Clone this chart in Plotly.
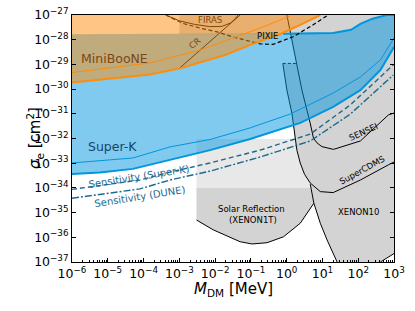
import numpy as np
import plotly.graph_objects as go

# ---- data: log10(M_DM / MeV) and log10(sigma_e / cm^2) ----
# Super-K excluded band
skb_lm = [-6.0, -5.22, -4.30, -3.26, -2.14, -1.02, 0.38, 1.30, 2.06, 2.62, 3.0]
skb_ls = [-33.44, -33.38, -33.23, -32.87, -32.47, -32.02, -31.37, -30.72, -30.04, -29.23, -28.30]
skt_lm = [-6.0, -4.30, -3.26, -2.14, -1.02, 0.10, 1.30, 2.06, 2.62, 3.0]
skt_ls = [-32.99, -32.79, -32.34, -32.04, -31.57, -31.01, -30.16, -29.51, -28.82, -27.93]
sktop_lm = [-6.0, -0.10, 1.30, 1.80, 2.06, 2.40, 2.80, 3.0]
sktop_ls = [-27.78, -27.76, -27.73, -27.60, -27.36, -27.15, -27.0, -27.0]

# MiniBooNE
mb_lm = [-6.0, -4.66, -3.82, -2.98, -1.72, -1.02, -0.18, 0.38, 0.94]
mb_ls = [-29.73, -29.55, -29.41, -29.16, -28.62, -28.21, -27.77, -27.40, -27.0]
mbt_lm = [-6.0, -3.82, -2.42, -1.72, -0.74, 0.10]
mbt_ls = [-29.33, -28.94, -28.42, -28.05, -27.53, -27.04]

# Solar reflection (XENON1T)
sr_lm = [-2.52, -2.05, -1.30, -0.97, -0.55, -0.09, 0.38, 0.76]
sr_ls = [-35.30, -35.70, -36.18, -36.27, -36.22, -35.98, -35.43, -34.62]
sr_top = -34.0
band_top = -32.02
band_left = -2.52

# upper gray block
ub_left = -3.0
ub_bottom = -27.78

# SENSEI (L1)
se_lm = [0.006, 0.426, 0.658, 0.75, 0.85, 0.986, 1.31, 2.06, 2.84, 3.0]
se_ls = [-27.0, -30.04, -31.38, -31.99, -32.18, -32.33, -32.44, -32.10, -31.05, -30.97]
# SuperCDMS (L2)
sc_lm = [-0.107, 0.006, 0.146, 0.286, 0.378, 0.50, 0.658, 0.94, 1.30, 1.44, 2.06, 2.84, 3.0]
sc_ls = [-28.96, -30.04, -30.97, -32.47, -32.99, -33.45, -33.80, -34.15, -34.19, -34.09, -33.68, -33.07, -32.95]
sc_top = -28.96
# XENON10
x10_lm = [0.66, 0.76, 0.94, 1.13, 1.41]
x10_ls = [-33.85, -34.62, -35.43, -36.11, -37.0]
x10r_lm = [2.62, 3.0]
x10r_ls = [-37.0, -36.66]

# Cosmology / CR lines
pixie_lm = [-3.38, -2.90, -2.42, -1.95, -1.50, -1.02, -0.74, -0.38, 0.18, 0.66, 1.16]
pixie_ls = [-27.0, -27.34, -27.53, -27.68, -27.89, -28.08, -28.17, -28.19, -27.88, -27.47, -27.0]
firas_lm = [-3.38, -2.99, -2.57, -2.15, -1.81, -1.56, -1.42, -1.36]
firas_ls = [-27.0, -27.24, -27.38, -27.47, -27.46, -27.32, -27.12, -27.0]
cr_lm = [-3.0, -1.30]
cr_ls = [-29.16, -27.0]

# Sensitivities
sens_lm = [-6.0, -4.10, -3.26, -2.14, -0.74, 0.66, 1.78, 2.98]
sens_sk_ls = [-34.06, -33.68, -33.36, -32.99, -32.47, -31.82, -30.64, -29.02]
sens_dune_ls = [-34.42, -34.04, -33.68, -33.32, -32.75, -32.10, -31.01, -29.43]

# tick exponents
x_exps = list(range(-6, 4))
y_exps = list(range(-37, -26))

XMIN, XMAX, YMIN, YMAX = -6.0, 3.0, -37.0, -27.0

def P(a):
    return np.power(10.0, np.asarray(a, dtype=float))

def pow_label(e):
    s = str(e).replace("-", "\u2212")
    return f"10<sup>{s}</sup>"

fig = go.Figure()

def poly(lm, ls, fillcolor, line=None):
    fig.add_trace(go.Scatter(x=P(lm), y=P(ls), mode="lines", fill="toself",
                             fillcolor=fillcolor,
                             line=line or dict(width=0, color="rgba(0,0,0,0)"),
                             hoverinfo="skip"))

def curve(lm, ls, color, width=1.0, dash="solid"):
    fig.add_trace(go.Scatter(x=P(lm), y=P(ls), mode="lines",
                             line=dict(color=color, width=width, dash=dash),
                             hoverinfo="skip"))

LG = "#e8e8e8"
DG = "#d3d3d3"

# light gray band
poly([band_left, XMAX, XMAX, band_left], [band_top, band_top, sr_top, sr_top], LG)
# solar reflection
poly([band_left, x10_lm[0]] + sr_lm[::-1], [sr_top, sr_top] + sr_ls[::-1], DG)
curve(sr_lm, sr_ls, "black", 1.0)
# upper gray block
poly([ub_left, XMAX, XMAX, ub_left], [YMAX, YMAX, ub_bottom, ub_bottom], DG)
# direct detection union
se_at_top = float(np.interp(-sc_top, [-v for v in se_ls[:2]], se_lm[:2]))
sc_up_lm = [v for v in sc_lm if v <= 0.60]
sc_up_ls = sc_ls[:len(sc_up_lm)]
dd_lm = [se_lm[0], XMAX, XMAX] + x10r_lm[::-1] + x10_lm[::-1] + sc_up_lm[::-1] + [se_at_top]
dd_ls = [YMAX, YMAX, x10r_ls[-1]] + x10r_ls[::-1] + x10_ls[::-1] + sc_up_ls[::-1] + [sc_top]
poly(dd_lm, dd_ls, DG)
curve(se_lm, se_ls, "black", 1.0)
curve(sc_lm, sc_ls, "black", 1.0)
curve([sc_lm[0], se_at_top], [sc_top, sc_top], "black", 1.0, "3px,2px")
curve(x10_lm, x10_ls, "black", 1.0)
curve(x10r_lm, x10r_ls, "black", 1.0)

# Super-K
SKC = "rgb(0,150,222)"
poly(sktop_lm + skb_lm[::-1], sktop_ls + skb_ls[::-1], "rgba(0,150,222,0.5)")
curve(skt_lm, skt_ls, SKC, 1.0)
curve(skb_lm, skb_ls, SKC, 2.0)
curve(sktop_lm[1:], sktop_ls[1:], SKC, 2.0)

# sensitivities
SENC = "#1d6a8f"
curve(sens_lm, sens_sk_ls, SENC, 1.4, "5px,3px")
curve(sens_lm, sens_dune_ls, SENC, 1.4, "7px,2px,2px,2px")

# cosmology / CR lines (under MiniBooNE fill)
curve(pixie_lm, pixie_ls, "black", 1.2, "4px,2.5px")
curve(firas_lm, firas_ls, "black", 1.0)
curve(cr_lm, cr_ls, "black", 1.0)

# MiniBooNE
MBC = "rgb(255,140,10)"
poly([XMIN, mb_lm[-1]] + mb_lm[::-1], [YMAX, YMAX] + mb_ls[::-1], "rgba(255,140,10,0.5)")
curve(mbt_lm, mbt_ls, MBC, 1.0)
curve(mb_lm, mb_ls, MBC, 2.0)

BROWN = "#7f460c"
ann = [
    dict(x=-4.80, y=-28.75, text="MiniBooNE", size=12.5, color="#7b4713", angle=0),
    dict(x=-4.86, y=-32.33, text="Super-K", size=12.5, color="#17456b", angle=0),
    dict(x=-4.12, y=-33.52, text="Sensitivity (Super-K)", size=10, color=SENC, angle=-9),
    dict(x=-4.10, y=-34.36, text="Sensitivity (DUNE)", size=10, color=SENC, angle=-9),
    dict(x=-2.14, y=-27.22, text="FIRAS", size=8.5, color=BROWN, angle=0),
    dict(x=-2.56, y=-28.15, text="CR", size=8.5, color=BROWN, angle=-40),
    dict(x=-0.53, y=-27.85, text="PIXIE", size=8.5, color="black", angle=0),
    dict(x=2.14, y=-31.72, text="SENSEI", size=8.5, color="black", angle=-25),
    dict(x=2.11, y=-33.28, text="SuperCDMS", size=8.5, color="black", angle=-29),
    dict(x=2.01, y=-34.96, text="XENON10", size=8.5, color="black", angle=0),
    dict(x=-0.97, y=-34.87, text="Solar Reflection", size=8.5, color="black", angle=0),
    dict(x=-0.93, y=-35.30, text="(XENON1T)", size=8.5, color="black", angle=0),
]
for a in ann:
    fig.add_annotation(x=a["x"], y=a["y"], xref="x", yref="y", text=a["text"],
                       showarrow=False, textangle=a["angle"],
                       font=dict(size=a["size"], color=a["color"], family="DejaVu Sans"))

fig.add_annotation(x=-0.155, y=0.5, xref="paper", yref="paper", textangle=-90,
                   text="<i>σ</i><sub>e</sub> [cm<sup>2</sup>]", showarrow=False,
                   font=dict(size=15, color="black", family="DejaVu Sans"))
fig.add_annotation(x=0.5, y=-0.11, xref="paper", yref="paper", yanchor="middle",
                   text="<i>M</i><sub>DM</sub> [MeV]", showarrow=False,
                   font=dict(size=15, color="black", family="DejaVu Sans"))

axis_common = dict(type="log", showgrid=False, zeroline=False, showline=True,
                   linecolor="black", linewidth=1, ticks="inside", ticklen=4,
                   tickcolor="black", automargin=False, tickmode="array",
                   tickfont=dict(size=12.5, color="black", family="DejaVu Sans"))
fig.update_xaxes(range=[XMIN, XMAX], mirror=True,
                 tickvals=list(P(x_exps)), ticktext=[pow_label(e) for e in x_exps],
                 minor=dict(ticks="inside", ticklen=2, tickcolor="black", dtick="D1", showgrid=False),
                 **axis_common)
fig.update_yaxes(range=[YMIN, YMAX], mirror="ticks",
                 tickvals=list(P(y_exps)), ticktext=[pow_label(e) for e in y_exps],
                 **axis_common)

fig.update_layout(width=415, height=311, margin=dict(l=72, r=21, t=15, b=49, autoexpand=False),
                  plot_bgcolor="white", paper_bgcolor="white", showlegend=False,
                  hovermode=False,
                  font=dict(family="DejaVu Sans", color="black"))

fig.write_html("out.html", config={"displayModeBar": False, "staticPlot": True},
               post_script="document.body.style.margin='0px';document.body.style.padding='0px';")
